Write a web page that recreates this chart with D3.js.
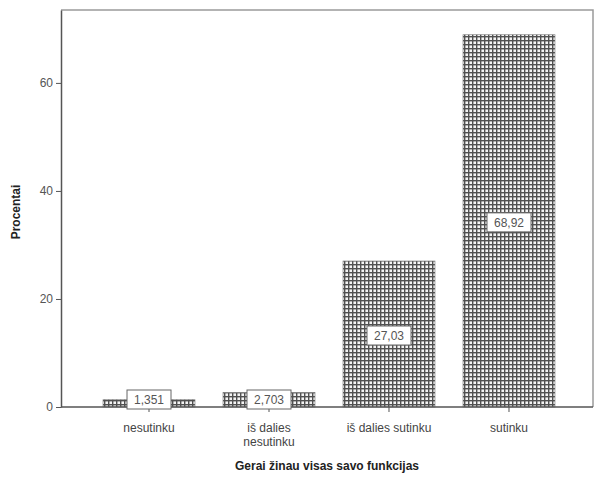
<!DOCTYPE html>
<html>
<head>
<meta charset="utf-8">
<script src="https://cdn.jsdelivr.net/npm/d3@7"></script>
<style>
  body { margin: 0; background: #fff; }
  text { font-family: "Liberation Sans", Arial, sans-serif; }
</style>
</head>
<body>
<div id="chart"></div>
<script>
// data
const categories = ["nesutinku", "iš dalies nesutinku", "iš dalies sutinku", "sutinku"];
const tickLines = [["nesutinku"], ["iš dalies", "nesutinku"], ["iš dalies sutinku"], ["sutinku"]];
const values = [1.351, 2.703, 27.03, 68.92];
const labels = ["1,351", "2,703", "27,03", "68,92"];
const yTicks = [0, 20, 40, 60];

const width = 596, height = 478;
const plotL = 61, plotR = 593, plotT = 10, plotB = 407;

const svg = d3.select('#chart').append('svg')
  .attr('width', width)
  .attr('height', height);

// cross hatch fill like the SPSS output
const defs = svg.append('defs');
const pat = defs.append('pattern')
  .attr('id', 'hatch')
  .attr('patternUnits', 'userSpaceOnUse')
  .attr('width', 4).attr('height', 4);
pat.append('rect').attr('width', 4).attr('height', 4).attr('fill', '#f4f4f4');
pat.append('rect').attr('width', 4).attr('height', 1.4).attr('fill', '#505050');
pat.append('rect').attr('width', 1.4).attr('height', 4).attr('fill', '#505050');

const x = d3.scaleBand()
  .domain(categories)
  .range([89, 569])
  .paddingInner(0.2333)
  .paddingOuter(0.1167);

const y = d3.scaleLinear()
  .domain([0, 73.5])
  .range([plotB, plotT]);

// frame: top and right lighter
svg.append('path')
  .attr('d', `M${plotL},${plotT}H${plotR}V${plotB}`)
  .attr('fill', 'none')
  .attr('stroke', '#9a9a9a')
  .attr('stroke-width', 1.5);

// bars
svg.selectAll('rect.bar')
  .data(values)
  .join('rect')
  .attr('class', 'bar')
  .attr('x', (d, i) => x(categories[i]))
  .attr('y', d => y(d))
  .attr('width', x.bandwidth())
  .attr('height', d => y(0) - y(d))
  .attr('fill', 'url(#hatch)')
  .attr('stroke', '#777')
  .attr('stroke-width', 0.6);

// y axis
const yAxis = svg.append('g')
  .attr('transform', `translate(${plotL},0)`)
  .call(d3.axisLeft(y).tickValues(yTicks).tickSize(5).tickSizeOuter(0).tickPadding(3));
yAxis.select('.domain').attr('stroke', '#555').attr('stroke-width', 1.5);
yAxis.selectAll('.tick line').attr('stroke', '#555');
yAxis.selectAll('.tick text').attr('fill', '#555').style('font-size', '12px');

// x axis
const xAxis = svg.append('g')
  .attr('transform', `translate(0,${plotB})`)
  .call(d3.axisBottom(x).tickSize(5).tickSizeOuter(0).tickFormat(''));
xAxis.select('.domain').attr('d', `M${plotL},0H${plotR}`).attr('stroke', '#555').attr('stroke-width', 1.5);
xAxis.selectAll('.tick line').attr('stroke', '#555');

const xl = svg.append('g').selectAll('text')
  .data(categories)
  .join('text')
  .attr('x', d => x(d) + x.bandwidth() / 2)
  .attr('y', 432)
  .attr('text-anchor', 'middle')
  .attr('fill', '#444')
  .style('font-size', '12px');
xl.each(function(d, i) {
  d3.select(this).selectAll('tspan')
    .data(tickLines[i])
    .join('tspan')
    .attr('x', x(d) + x.bandwidth() / 2)
    .attr('dy', (t, j) => j ? 14 : 0)
    .text(t => t);
});

// value labels in boxes
const lab = svg.append('g').selectAll('g')
  .data(values)
  .join('g')
  .attr('transform', (d, i) => {
    const cy = Math.min((y(d) + y(0)) / 2 + 2, 400);
    return `translate(${x(categories[i]) + x.bandwidth() / 2},${cy})`;
  });
lab.append('rect')
  .attr('x', -22).attr('y', -10)
  .attr('width', 44).attr('height', 19)
  .attr('fill', '#fff')
  .attr('stroke', '#666')
  .attr('stroke-width', 1);
lab.append('text')
  .attr('text-anchor', 'middle')
  .attr('dy', '0.35em')
  .attr('fill', '#555')
  .style('font-size', '12px')
  .text((d, i) => labels[i]);

// titles
svg.append('text')
  .attr('x', (plotL + plotR) / 2)
  .attr('y', 470)
  .attr('text-anchor', 'middle')
  .attr('font-weight', 'bold')
  .attr('fill', '#222')
  .style('font-size', '12px')
  .text('Gerai žinau visas savo funkcijas');

svg.append('text')
  .attr('transform', `translate(20,212) rotate(-90)`)
  .attr('text-anchor', 'middle')
  .attr('font-weight', 'bold')
  .attr('fill', '#222')
  .style('font-size', '12px')
  .text('Procentai');
</script>
</body>
</html>
